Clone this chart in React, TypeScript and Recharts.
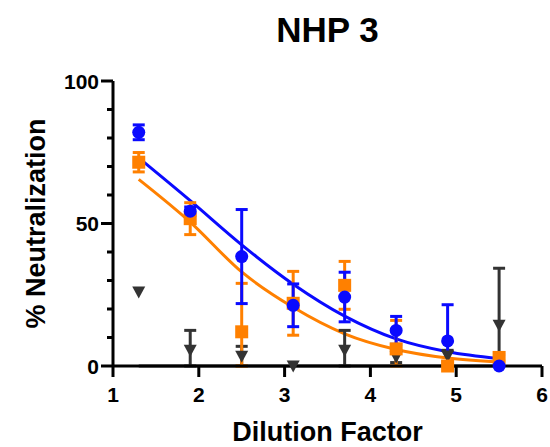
import { ComposedChart, Line, Scatter, XAxis, YAxis, ErrorBar, Label } from "recharts";

// dilution points (x) shared by all three groups
const dilution = [1.3, 1.9, 2.5, 3.1, 3.7, 4.3, 4.9, 5.5];

// blue circles
const blueMean = [82, 54.3, 38.4, 21.3, 24.2, 12.5, 8.8, 0];
const blueErr: (number | number[])[] = [2.6, 1.5, 16.5, 7.5, 8.7, 4.9, [8.8, 12.7], 0];
const blueFit = [73, 58, 42.5, 28.7, 17.5, 9.5, 5, 2.6];

// orange squares
const orangeMean = [71.5, 51.7, 12, 22, 28.3, 6, 0, 3];
const orangeErr: (number | number[])[] = [3.4, 5.6, [12, 17], 11.2, 8.4, [6, 10], 0, 1];
const orangeFit = [65.5, 50.5, 33, 20.6, 11.3, 5.8, 2.8, 1.4];

// dark grey triangles (lower whiskers stop at the axis)
const grayMean = [26, 5.5, 3.4, 0, 5.5, 3.2, 3.5, 14.3];
const grayErr: (number | number[])[] = [0, [5.5, 7], [3.4, 3.5], 0, [5.5, 7], 2, 2, [14.3, 20]];
const grayFit = [0, 0, 0, 0, 0, 0, 0, 0];

const xTicks = [1, 2, 3, 4, 5, 6];
const yTicks = [0, 10, 20, 30, 40, 50, 60, 70, 80, 90, 100];
const yLabels = [0, 50, 100];

const BLUE = "#0a0aff";
const ORANGE = "#ff8000";
const GRAY = "#333333";
const FONT = "'Liberation Sans', Arial, sans-serif";

const points = (mean: number[], err: (number | number[])[]) =>
  dilution.map((x, i) => ({ x, y: mean[i], err: err[i] }));
const curve = (fit: number[]) => dilution.map((x, i) => ({ x, y: fit[i] }));

const Dot = (p: any) => <circle cx={p.cx} cy={p.cy} r={6.5} fill={BLUE} />;
const Box = (p: any) => (
  <rect x={p.cx - 6.5} y={p.cy - 6.5} width={13} height={13} fill={ORANGE} />
);
const TriDown = (p: any) => (
  <path
    d={`M${p.cx - 6.5},${p.cy - 5.5}L${p.cx + 6.5},${p.cy - 5.5}L${p.cx},${p.cy + 6.5}Z`}
    fill={GRAY}
  />
);

const YTick = (props: any) => {
  const { x, y, payload } = props;
  const major = yLabels.includes(payload.value);
  return (
    <g>
      <line x1={x - (major ? 12 : 6)} x2={x} y1={y} y2={y} stroke="#000" strokeWidth={3} />
      {major && (
        <text
          x={x - 14}
          y={y + 7.5}
          textAnchor="end"
          fontFamily={FONT}
          fontWeight="bold"
          fontSize={21}
          fill="#000"
        >
          {payload.value}
        </text>
      )}
    </g>
  );
};

const XTick = (props: any) => {
  const { x, y, payload } = props;
  return (
    <g>
      <line x1={x} x2={x} y1={y} y2={y + 11} stroke="#000" strokeWidth={3} />
      <text
        x={x}
        y={y + 36}
        textAnchor="middle"
        fontFamily={FONT}
        fontWeight="bold"
        fontSize={21}
        fill="#000"
      >
        {payload.value}
      </text>
    </g>
  );
};

export default function App() {
  return (
    <div style={{ position: "absolute", left: 0, top: 0, width: 550, height: 447, background: "#fff" }}>
      <div
        style={{
          position: "absolute",
          left: 113,
          width: 429,
          top: 12,
          textAlign: "center",
          fontFamily: FONT,
          fontWeight: "bold",
          fontSize: 35,
          lineHeight: "35px",
        }}
      >
        NHP 3
      </div>
      <ComposedChart width={550} height={447} margin={{ top: 81, right: 8, bottom: 0, left: 0 }}>
        <XAxis
          type="number"
          dataKey="x"
          domain={[1, 6]}
          ticks={xTicks}
          interval={0}
          height={81}
          tickSize={0}
          tickMargin={0}
          tickLine={false}
          axisLine={{ stroke: "#000", strokeWidth: 3 }}
          tick={<XTick />}
        >
          <Label
            content={(p: any) => (
              <text
                x={p.viewBox.x + p.viewBox.width / 2}
                y={p.viewBox.y + 75}
                textAnchor="middle"
                fontFamily={FONT}
                fontWeight="bold"
                fontSize={27}
                fill="#000"
              >
                Dilution Factor
              </text>
            )}
          />
        </XAxis>
        <YAxis
          type="number"
          domain={[0, 100]}
          ticks={yTicks}
          interval={0}
          width={113}
          tickSize={0}
          tickMargin={0}
          tickLine={false}
          axisLine={{ stroke: "#000", strokeWidth: 3 }}
          tick={<YTick />}
        >
          <Label
            content={(p: any) => {
              const cx = p.viewBox.x + 45;
              const cy = p.viewBox.y + p.viewBox.height / 2;
              return (
                <text
                  x={cx}
                  y={cy}
                  transform={`rotate(-90 ${cx} ${cy})`}
                  textAnchor="middle"
                  fontFamily={FONT}
                  fontWeight="bold"
                  fontSize={27}
                  fill="#000"
                >
                  % Neutralization
                </text>
              );
            }}
          />
        </YAxis>

        <Line data={curve(grayFit)} dataKey="y" type="monotone" stroke={GRAY} strokeWidth={3} dot={false} isAnimationActive={false} />
        <Line data={curve(orangeFit)} dataKey="y" type="monotone" stroke={ORANGE} strokeWidth={3} dot={false} isAnimationActive={false} />
        <Line data={curve(blueFit)} dataKey="y" type="monotone" stroke={BLUE} strokeWidth={3} dot={false} isAnimationActive={false} />

        <Scatter data={points(grayMean, grayErr)} dataKey="y" shape={TriDown} isAnimationActive={false}>
          <ErrorBar dataKey="err" direction="y" width={6} stroke={GRAY} strokeWidth={3} />
        </Scatter>
        <Scatter data={points(orangeMean, orangeErr)} dataKey="y" shape={Box} isAnimationActive={false}>
          <ErrorBar dataKey="err" direction="y" width={6} stroke={ORANGE} strokeWidth={3} />
        </Scatter>
        <Scatter data={points(blueMean, blueErr)} dataKey="y" shape={Dot} isAnimationActive={false}>
          <ErrorBar dataKey="err" direction="y" width={6} stroke={BLUE} strokeWidth={3} />
        </Scatter>
      </ComposedChart>
    </div>
  );
}
